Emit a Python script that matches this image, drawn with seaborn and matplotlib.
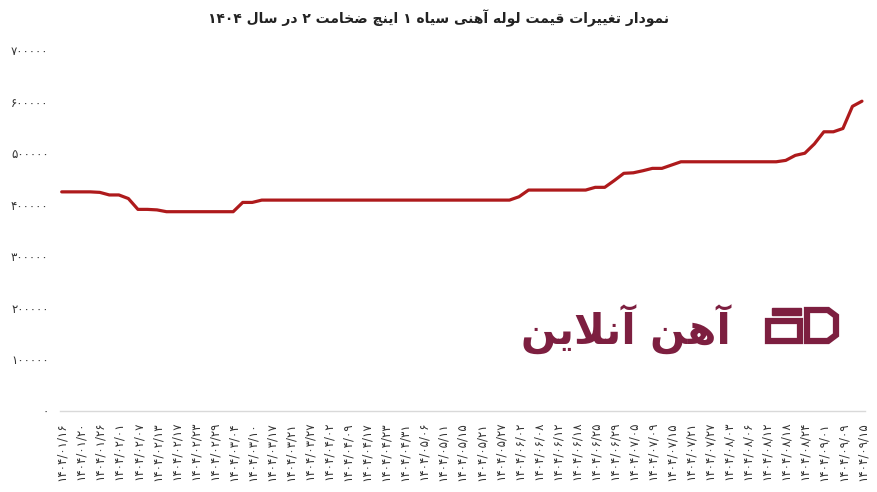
import re
import numpy as np
import pandas as pd
import matplotlib
matplotlib.use("Agg")
import matplotlib.pyplot as plt
import seaborn as sns
from matplotlib.patches import Polygon, Rectangle

# tick labels on the date axis (every second data point)
date_labels = ['۱۴۰۴/۰۱/۱۶', '۱۴۰۴/۰۱/۲۰', '۱۴۰۴/۰۱/۲۶', '۱۴۰۴/۰۲/۰۱', '۱۴۰۴/۰۲/۰۷',
               '۱۴۰۴/۰۲/۱۳', '۱۴۰۴/۰۲/۱۷', '۱۴۰۴/۰۲/۲۳', '۱۴۰۴/۰۲/۲۹', '۱۴۰۴/۰۳/۰۴',
               '۱۴۰۴/۰۳/۱۰', '۱۴۰۴/۰۳/۱۷', '۱۴۰۴/۰۳/۲۱', '۱۴۰۴/۰۳/۲۷', '۱۴۰۴/۰۴/۰۲',
               '۱۴۰۴/۰۴/۰۹', '۱۴۰۴/۰۴/۱۷', '۱۴۰۴/۰۴/۲۳', '۱۴۰۴/۰۴/۳۱', '۱۴۰۴/۰۵/۰۶',
               '۱۴۰۴/۰۵/۱۱', '۱۴۰۴/۰۵/۱۵', '۱۴۰۴/۰۵/۲۱', '۱۴۰۴/۰۵/۲۷', '۱۴۰۴/۰۶/۰۲',
               '۱۴۰۴/۰۶/۰۸', '۱۴۰۴/۰۶/۱۲', '۱۴۰۴/۰۶/۱۸', '۱۴۰۴/۰۶/۲۵', '۱۴۰۴/۰۶/۲۹',
               '۱۴۰۴/۰۷/۰۵', '۱۴۰۴/۰۷/۰۹', '۱۴۰۴/۰۷/۱۵', '۱۴۰۴/۰۷/۲۱', '۱۴۰۴/۰۷/۲۷',
               '۱۴۰۴/۰۸/۰۳', '۱۴۰۴/۰۸/۰۶', '۱۴۰۴/۰۸/۱۲', '۱۴۰۴/۰۸/۱۸', '۱۴۰۴/۰۸/۲۴',
               '۱۴۰۴/۰۹/۰۱', '۱۴۰۴/۰۹/۰۹', '۱۴۰۴/۰۹/۱۵']

# price (rial) per data point
price = [425000, 425000, 425000, 425000, 424000, 419000, 419000, 412000, 391000, 391000,
         390000, 386500, 386500, 386500, 386500, 386500, 386500, 386500, 386500, 404500,
         404500, 409000, 409000, 409000, 409000, 409000, 409000, 409000, 409000, 409000,
         409000, 409000, 409000, 409000, 409000, 409000, 409000, 409000, 409000, 409000,
         409000, 409000, 409000, 409000, 409000, 409000, 409000, 409000, 415500, 428500,
         428500, 428500, 428500, 428500, 428500, 428500, 433800, 433800, 447000, 461000,
         462000, 466000, 470600, 470600, 477000, 483400, 483400, 483400, 483400, 483400,
         483400, 483400, 483400, 483400, 483400, 483400, 486100, 495800, 500000, 518000,
         541600, 541600, 548000, 591000, 601000]

y_ticks = [0, 100000, 200000, 300000, 400000, 500000, 600000, 700000]
y_labels = ['۰', '۱۰۰۰۰۰', '۲۰۰۰۰۰', '۳۰۰۰۰۰', '۴۰۰۰۰۰', '۵۰۰۰۰۰', '۶۰۰۰۰۰', '۷۰۰۰۰۰']

title = 'نمودار تغییرات قیمت لوله آهنی سیاه ۱ اینچ ضخامت ۲ در سال ۱۴۰۴'
brand = 'آهن آنلاین'

# matplotlib has no arabic shaping: map letters to presentation forms by hand
FORMS = {
    'ا': ('\uFE8D', '\uFE8E'), 'آ': ('\uFE81', '\uFE82'),
    'د': ('\uFEA9', '\uFEAA'), 'ر': ('\uFEAD', '\uFEAE'), 'و': ('\uFEED', '\uFEEE'),
    'ب': ('\uFE8F', '\uFE90', '\uFE91', '\uFE92'),
    'ت': ('\uFE95', '\uFE96', '\uFE97', '\uFE98'),
    'خ': ('\uFEA5', '\uFEA6', '\uFEA7', '\uFEA8'),
    'س': ('\uFEB1', '\uFEB2', '\uFEB3', '\uFEB4'),
    'ض': ('\uFEBD', '\uFEBE', '\uFEBF', '\uFEC0'),
    'غ': ('\uFECD', '\uFECE', '\uFECF', '\uFED0'),
    'ق': ('\uFED5', '\uFED6', '\uFED7', '\uFED8'),
    'ل': ('\uFEDD', '\uFEDE', '\uFEDF', '\uFEE0'),
    'م': ('\uFEE1', '\uFEE2', '\uFEE3', '\uFEE4'),
    'ن': ('\uFEE5', '\uFEE6', '\uFEE7', '\uFEE8'),
    'ه': ('\uFEE9', '\uFEEA', '\uFEEB', '\uFEEC'),
    'ی': ('\uFBFC', '\uFBFD', '\uFBFE', '\uFBFF'),
    'چ': ('\uFB7A', '\uFB7B', '\uFB7C', '\uFB7D'),
}
LAMALEF = {'ا': ('\uFEFB', '\uFEFC'), 'آ': ('\uFEF5', '\uFEF6')}


def rtl(s):
    out = []
    i = 0
    while i < len(s):
        c = s[i]
        prev = s[i - 1] if i > 0 else ''
        prev_joins = prev in FORMS and len(FORMS[prev]) == 4
        if c == 'ل' and i + 1 < len(s) and s[i + 1] in LAMALEF:
            out.append(LAMALEF[s[i + 1]][1 if prev_joins else 0])
            i += 2
            continue
        if c in FORMS:
            f = FORMS[c]
            nxt = s[i + 1] if i + 1 < len(s) else ''
            next_joins = len(f) == 4 and nxt in FORMS
            if prev_joins and next_joins:
                out.append(f[3])
            elif next_joins:
                out.append(f[2])
            elif prev_joins:
                out.append(f[1])
            else:
                out.append(f[0])
        else:
            out.append(c)
        i += 1
    tokens = re.findall(r'[۰-۹0-9]+|.', ''.join(out))
    return ''.join(reversed(tokens))


df = pd.DataFrame({'idx': np.arange(len(price)), 'price': price})

sns.set_theme(style='white')
plt.rcParams['font.family'] = ['DejaVu Sans']

fig = plt.figure(figsize=(8.78, 4.92), dpi=100)

# watermark logo, drawn in pixel space behind the chart
ov = fig.add_axes([0, 0, 1, 1])
ov.set_xlim(0, 878)
ov.set_ylim(492, 0)
ov.axis('off')
logo = '#7d1f40'
ov.text(626, 330, rtl(brand), ha='center', va='center', fontsize=30,
        fontweight='bold', color=logo)
ov.add_patch(Rectangle((772, 308), 29, 7, color=logo))
ov.add_patch(Polygon([(768, 321), (800, 321), (800, 341), (768, 341)], closed=True,
                     fill=False, edgecolor=logo, linewidth=4.5))
ov.add_patch(Polygon([(807, 310), (828, 310), (836, 316), (836, 335), (828, 341), (807, 341)],
                     closed=True, fill=False, edgecolor=logo, linewidth=4.5))

ax = fig.add_axes([0.068, 0.165, 0.917, 0.733])
ax.patch.set_alpha(0)

sns.lineplot(data=df, x='idx', y='price', ax=ax, color='#ae1a1c', linewidth=2.3)

ax.set_ylim(0, 700000)
ax.set_xlim(-0.21, len(price) - 1 + 0.3)
ax.set_yticks(y_ticks)
ax.set_yticklabels(y_labels, fontsize=8.5, color='#333333')
ax.set_xticks(np.arange(0, len(price), 2))
ax.set_xticklabels(date_labels, rotation=90, fontsize=8.5, color='#333333')
ax.tick_params(axis='y', length=0, pad=8)
ax.tick_params(axis='x', length=0, pad=8)
ax.set_xlabel('')
ax.set_ylabel('')
for side in ['left', 'right', 'top']:
    ax.spines[side].set_visible(False)
ax.spines['bottom'].set_color('#d9d9d9')
ax.spines['bottom'].set_linewidth(1)

fig.text(0.5, 0.963, rtl(title), ha='center', va='center', fontsize=10,
         fontweight='bold', color='#222222')

plt.savefig('out.png', dpi=100)
